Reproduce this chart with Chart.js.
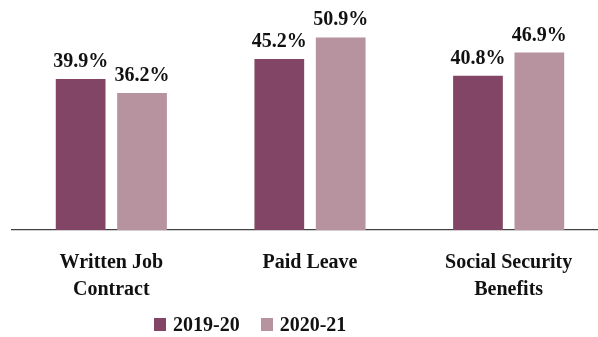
<!DOCTYPE html>
<html>
<head>
<meta charset="utf-8">
<script src="https://cdn.jsdelivr.net/npm/chart.js@4/dist/chart.umd.min.js"></script>
<style>
  html, body { margin: 0; padding: 0; background: #fff; }
  #wrap { position: relative; width: 598px; height: 337px; overflow: hidden; }
  #c { position: absolute; left: 0; top: 0; }
  #legend {
    position: absolute; left: 154px; top: 313px;
    display: flex; align-items: center;
    font-family: "Liberation Serif", "Times New Roman", serif;
    font-weight: bold; font-size: 20px; color: #111;
  }
  #legend .item { display: flex; align-items: center; margin-right: 21px; }
  #legend .sw { width: 12px; height: 13px; margin-right: 7px; }
</style>
</head>
<body>
<div id="wrap">
  <canvas id="c" width="612" height="337"></canvas>
  <div id="legend"></div>
</div>
<script>
// Categories (multi-line tick labels)
const categories = [
  ["Written Job", "Contract"],
  ["Paid Leave"],
  ["Social Security", "Benefits"]
];
// Series
const seriesNames = ["2019-20", "2020-21"];
const values2019 = [39.9, 45.2, 40.8];
const values2020 = [36.2, 50.9, 46.9];
const seriesColors = ["#834566", "#b7929f"];

const FONT = '"Liberation Serif", "Times New Roman", serif';

// Value labels above each bar
const valueLabels = {
  id: 'valueLabels',
  afterDatasetsDraw(chart) {
    const ctx = chart.ctx;
    ctx.save();
    ctx.font = 'bold 20px ' + FONT;
    ctx.fillStyle = '#111';
    ctx.textAlign = 'center';
    ctx.textBaseline = 'alphabetic';
    chart.data.datasets.forEach((ds, i) => {
      chart.getDatasetMeta(i).data.forEach((bar, j) => {
        ctx.fillText(ds.data[j].toFixed(1) + '%', bar.x, bar.y - 12);
      });
    });
    ctx.restore();
  }
};

new Chart(document.getElementById('c'), {
  type: 'bar',
  data: {
    labels: categories,
    datasets: [
      { label: seriesNames[0], data: values2019, backgroundColor: seriesColors[0] },
      { label: seriesNames[1], data: values2020, backgroundColor: seriesColors[1] }
    ]
  },
  options: {
    responsive: false,
    devicePixelRatio: 1,
    animation: false,
    categoryPercentage: 0.618,
    barPercentage: 0.81,
    layout: { padding: { left: 12, right: 4, top: 3, bottom: 0 } },
    plugins: {
      legend: { display: false },
      tooltip: { enabled: false }
    },
    scales: {
      x: {
        grid: { display: false, drawTicks: false },
        border: { display: true, color: '#404040', width: 1.2 },
        ticks: {
          color: '#111',
          padding: 19,
          font: { family: FONT, weight: 'bold', size: 20, lineHeight: 1.35 }
        },
        afterFit(scale) { scale.height = 107; }
      },
      y: {
        display: false,
        min: 0,
        max: 60
      }
    }
  },
  plugins: [valueLabels]
});

// Legend
const legend = document.getElementById('legend');
seriesNames.forEach((name, i) => {
  const item = document.createElement('div');
  item.className = 'item';
  const sw = document.createElement('span');
  sw.className = 'sw';
  sw.style.background = seriesColors[i];
  const tx = document.createElement('span');
  tx.textContent = name;
  item.appendChild(sw);
  item.appendChild(tx);
  legend.appendChild(item);
});
</script>
</body>
</html>
